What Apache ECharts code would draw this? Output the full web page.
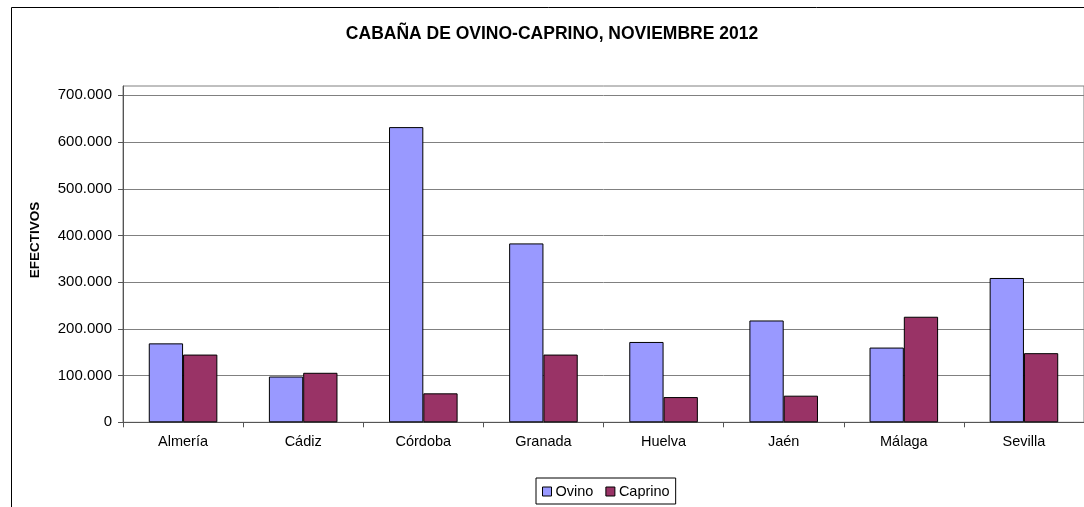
<!DOCTYPE html>
<html>
<head>
<meta charset="utf-8">
<script src="https://cdn.jsdelivr.net/npm/echarts@6/dist/echarts.min.js"></script>
<style>
html,body{margin:0;padding:0;background:#fff;}
#chart{width:1084px;height:507px;}
</style>
</head>
<body>
<div id="chart"></div>
<script>
const categories = ['Almería', 'Cádiz', 'Córdoba', 'Granada', 'Huelva', 'Jaén', 'Málaga', 'Sevilla'];
const ovino = [169000, 98000, 632000, 383000, 172000, 218000, 160000, 309000];
const caprino = [145000, 106000, 62000, 145000, 54000, 57000, 226000, 148000];
const yTicks = [0, 100000, 200000, 300000, 400000, 500000, 600000, 700000];
const titleText = 'CABAÑA DE OVINO-CAPRINO, NOVIEMBRE 2012';
const yName = 'EFECTIVOS';

function fmt(v) {
  return String(v).replace(/\B(?=(\d{3})+(?!\d))/g, '.');
}

const chart = echarts.init(document.getElementById('chart'), null, {renderer: 'canvas'});
const font = 'Liberation Sans, Arial, sans-serif';
chart.setOption({
  animation: false,
  backgroundColor: '#fff',
  textStyle: {fontFamily: font},
  title: {
    text: titleText,
    left: 547, top: 20, textAlign: 'center',
    textStyle: {fontFamily: font, fontWeight: 'bold', fontSize: 17.5, color: '#000'}
  },
  graphic: [
    {type: 'rect', shape: {x: 11.5, y: 7.5, width: 1200, height: 700}, style: {fill: null, stroke: '#000', lineWidth: 1}, silent: true, z: 100},
    {type: 'text', x: 35.5, y: 240, rotation: Math.PI / 2, style: {text: yName, font: 'bold 13.5px ' + font, fill: '#000', align: 'center', verticalAlign: 'middle'}}
  ],
  legend: {
    data: ['Ovino', 'Caprino'],
    left: 536, top: 478,
    orient: 'horizontal',
    icon: 'rect',
    itemWidth: 9, itemHeight: 9, itemGap: 12,
    borderColor: '#000', borderWidth: 1,
    padding: [6, 6, 5, 6],
    textStyle: {fontFamily: font, fontSize: 14.5, color: '#000', padding: [0, 0, 0, -1]},
    itemStyle: {borderColor: '#000', borderWidth: 1}
  },
  grid: {
    left: 123, top: 86, width: 966, height: 336.3,
    show: true, borderColor: '#808080', borderWidth: 1, backgroundColor: 'transparent'
  },
  xAxis: {
    type: 'category',
    data: categories,
    axisLine: {lineStyle: {color: '#555', width: 1}},
    axisTick: {show: true, length: 5, lineStyle: {color: '#555'}},
    axisLabel: {fontFamily: font, fontSize: 14.5, color: '#000', margin: 12},
    splitLine: {show: false}
  },
  yAxis: {
    type: 'value',
    min: 0, max: 720000, interval: 100000,
    axisLine: {show: true, lineStyle: {color: '#555', width: 1}},
    axisTick: {show: true, length: 5, lineStyle: {color: '#555'}, customValues: yTicks},
    axisLabel: {fontFamily: font, fontSize: 15, color: '#000', margin: 11, customValues: yTicks,
      formatter: function (v) { return v % 100000 === 0 ? fmt(v) : ''; }},
    splitLine: {show: true, lineStyle: {color: '#808080', width: 1}}
  },
  series: [
    {name: 'Ovino', type: 'bar', data: ovino, barGap: '0%', barCategoryGap: '42.9%',
      itemStyle: {color: '#9999FF', borderColor: '#000', borderWidth: 1}},
    {name: 'Caprino', type: 'bar', data: caprino, barGap: '0%', barCategoryGap: '42.9%',
      itemStyle: {color: '#993366', borderColor: '#000', borderWidth: 1}}
  ]
});
</script>
</body>
</html>
